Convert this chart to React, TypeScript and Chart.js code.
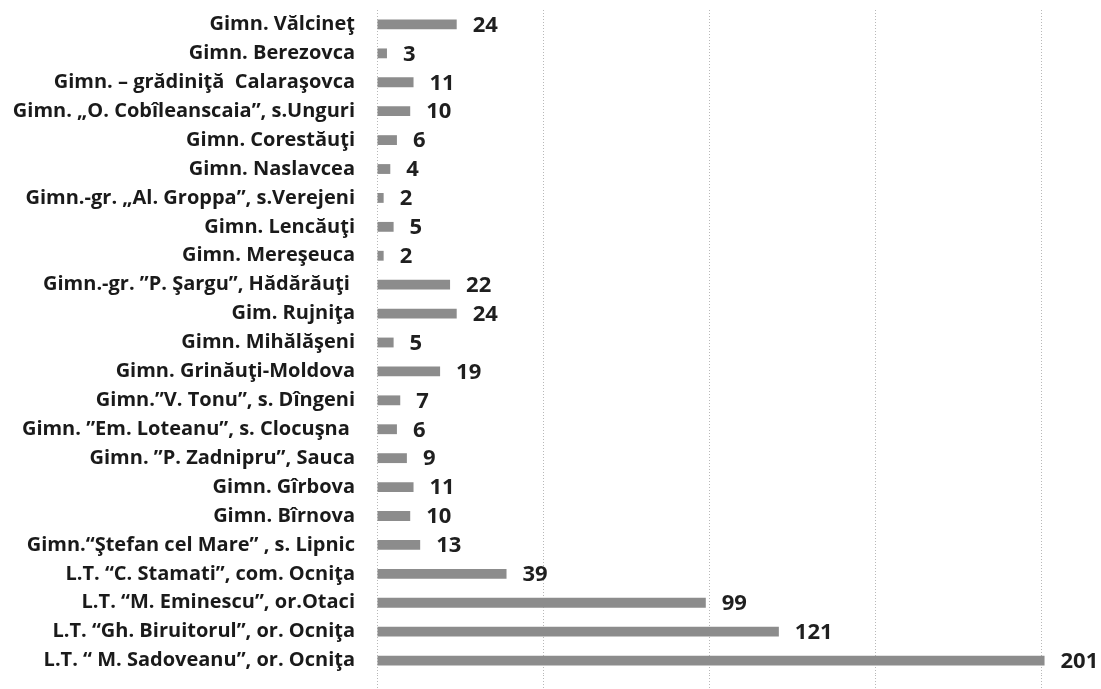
import React, { useEffect, useRef } from "react";
import { Chart, registerables } from "chart.js";

Chart.register(...registerables);

const schools: string[] = [
  "Gimn. Vălcineţ",
  "Gimn. Berezovca",
  "Gimn. – grădiniţă  Calaraşovca",
  "Gimn. „O. Cobîleanscaia”, s.Unguri",
  "Gimn. Corestăuţi",
  "Gimn. Naslavcea",
  "Gimn.-gr. „Al. Groppa”, s.Verejeni",
  "Gimn. Lencăuţi",
  "Gimn. Mereşeuca",
  "Gimn.-gr. ”P. Şargu”, Hădărăuţi ",
  "Gim. Rujniţa",
  "Gimn. Mihălăşeni",
  "Gimn. Grinăuţi-Moldova",
  "Gimn.”V. Tonu”, s. Dîngeni",
  "Gimn. ”Em. Loteanu”, s. Clocuşna ",
  "Gimn. ”P. Zadnipru”, Sauca",
  "Gimn. Gîrbova",
  "Gimn. Bîrnova",
  "Gimn.“Ştefan cel Mare” , s. Lipnic",
  "L.T. “C. Stamati”, com. Ocniţa",
  "L.T. “M. Eminescu”, or.Otaci",
  "L.T. “Gh. Biruitorul”, or. Ocniţa",
  "L.T. “ M. Sadoveanu”, or. Ocniţa",
];

const counts: number[] = [24, 3, 11, 10, 6, 4, 2, 5, 2, 22, 24, 5, 19, 7, 6, 9, 11, 10, 13, 39, 99, 121, 201];

const axisMin = 0;
const axisMax = 218;
const axisStep = 50;

const valueLabels = {
  id: "valueLabels",
  afterDatasetsDraw(chart: any) {
    const ctx = chart.ctx;
    const meta = chart.getDatasetMeta(0);
    const data = chart.data.datasets[0].data;
    ctx.save();
    ctx.font = "bold 22px 'Open Sans'";
    ctx.fillStyle = "#1f1f1f";
    ctx.textAlign = "left";
    ctx.textBaseline = "middle";
    meta.data.forEach((bar: any, i: number) => {
      ctx.fillText(String(data[i]), bar.x + 16, bar.y + 1);
    });
    ctx.restore();
  },
};

export default function App() {
  const ref = useRef<HTMLCanvasElement | null>(null);

  useEffect(() => {
    if (!ref.current) return;
    const chart = new Chart(ref.current, {
      type: "bar",
      data: {
        labels: schools,
        datasets: [
          {
            data: counts,
            backgroundColor: "#8c8c8c",
            borderWidth: 0,
            barPercentage: 0.34,
            categoryPercentage: 1,
          },
        ],
      },
      options: {
        indexAxis: "y",
        animation: false,
        responsive: true,
        maintainAspectRatio: false,
        layout: { padding: { top: 10, right: 0, bottom: 0, left: 0 } },
        plugins: {
          legend: { display: false },
          tooltip: { enabled: false },
        },
        scales: {
          x: {
            type: "linear",
            position: "bottom",
            min: axisMin,
            max: axisMax,
            ticks: { display: false, stepSize: axisStep, includeBounds: false },
            grid: {
              display: true,
              color: "#b8b8b8",
              lineWidth: 1,
              drawTicks: true,
              tickLength: 14,
              tickColor: "#b8b8b8",
              tickBorderDash: [1, 2],
            },
            border: { display: false, dash: [1, 2] },
          },
          y: {
            type: "category",
            afterFit: (scale: any) => {
              scale.width = 377;
              scale.paddingTop = 0;
              scale.paddingBottom = 0;
            },
            ticks: {
              color: "#1a1a1a",
              font: { family: "'Open Sans'", weight: "bold", size: 20 },
              padding: 22,
              autoSkip: false,
            },
            grid: { display: false, drawTicks: false },
            border: { display: false },
          },
        },
      },
      plugins: [
        valueLabels,
        {
          id: "dashGrid",
          beforeDraw(c: any) {
            const xs = c.scales.x;
            if (xs && xs.options.grid) xs.options.grid.borderDash = [1, 2];
          },
        },
      ],
    });
    return () => chart.destroy();
  }, []);

  return (
    <div style={{ position: "absolute", left: 0, top: 0, width: 1101, height: 689, background: "#ffffff" }}>
      <canvas ref={ref} />
    </div>
  );
}
